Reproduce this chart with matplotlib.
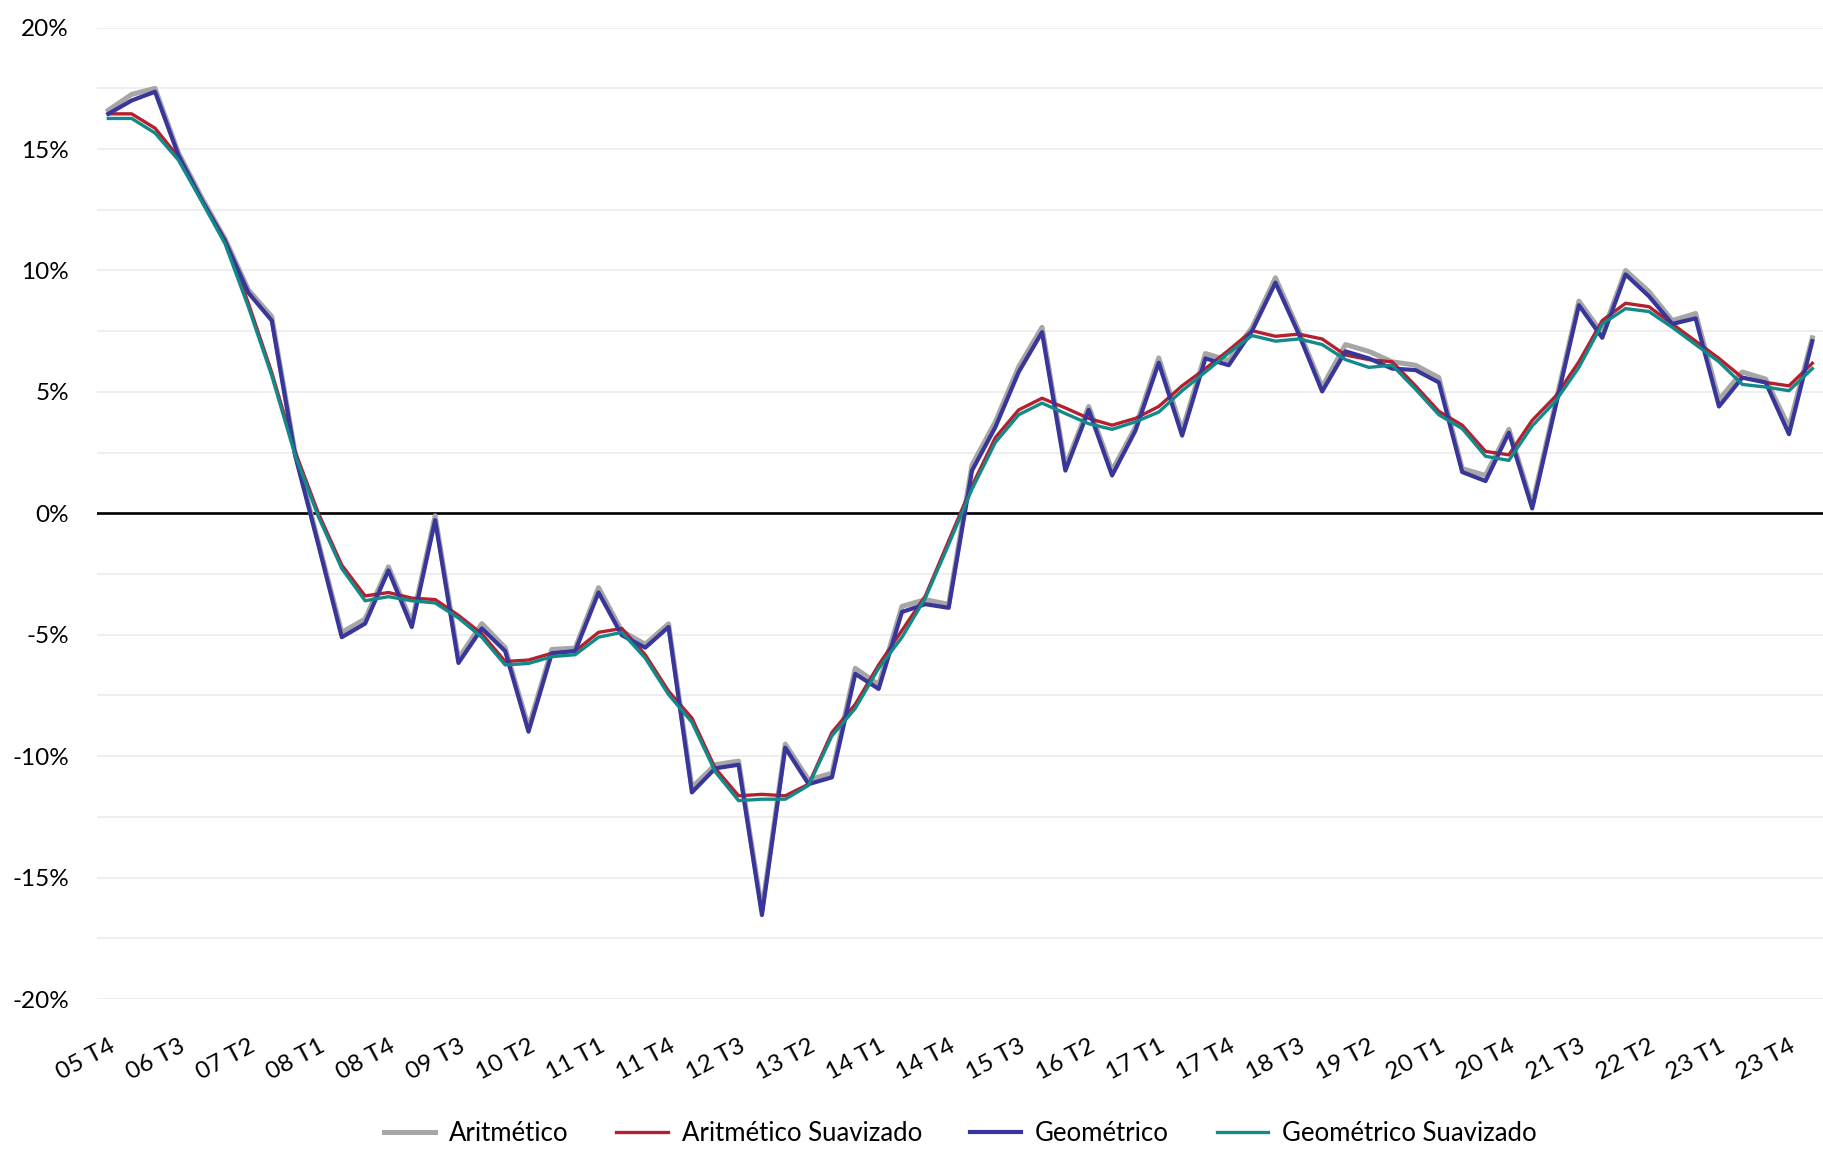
import matplotlib
matplotlib.use("Agg")
import matplotlib.pyplot as plt
from matplotlib.ticker import MultipleLocator, FuncFormatter

plt.rcParams['font.family'] = ['Lato', 'DejaVu Sans']

# quarters 05 T4 .. 24 T1
years = list(range(5, 25))
quarters = [f"{y:02d} T{q}" for y in years for q in range(1, 5)]
quarters = quarters[3:3 + 74]

# values in %
aritmetico = [16.6, 17.25, 17.5, 14.85, 13.0, 11.3, 9.2, 8.1, 2.5, -1.2,
              -4.9, -4.35, -2.2, -4.5, -0.1, -5.98, -4.54, -5.53, -8.8, -5.6,
              -5.55, -3.06, -4.85, -5.39, -4.55, -11.29, -10.35, -10.2, -16.35, -9.5,
              -10.98, -10.7, -6.38, -7.05, -3.83, -3.55, -3.75, 1.99, 3.77, 6.04,
              7.66, 1.94, 4.4, 1.76, 3.55, 6.4, 3.4, 6.58, 6.3, 7.66,
              9.7, 7.52, 5.2, 6.95, 6.67, 6.24, 6.1, 5.59, 1.84, 1.56,
              3.46, 0.35, 4.55, 8.74, 7.4, 10.0, 9.13, 7.94, 8.23, 4.68,
              5.82, 5.53, 3.55, 7.23]

aritmetico_suav = [16.45, 16.45, 15.86, 14.67, 12.9, 11.26, 8.65, 5.8, 2.55, 0.0,
                   -2.13, -3.4, -3.26, -3.49, -3.55, -4.2, -4.96, -6.1, -6.04, -5.76,
                   -5.67, -4.9, -4.74, -5.82, -7.32, -8.43, -10.5, -11.63, -11.57, -11.63,
                   -11.15, -9.02, -7.86, -6.24, -4.82, -3.4, -1.13, 1.13, 3.12, 4.26,
                   4.74, 4.34, 3.91, 3.63, 3.91, 4.4, 5.25, 5.96, 6.72, 7.52,
                   7.29, 7.38, 7.18, 6.52, 6.33, 6.24, 5.25, 4.2, 3.63, 2.55,
                   2.41, 3.83, 4.82, 6.24, 7.94, 8.65, 8.51, 7.8, 7.09, 6.38,
                   5.59, 5.39, 5.25, 6.18]

geometrico = [16.45, 17.0, 17.36, 14.75, 12.9, 11.2, 9.08, 7.94, 2.4, -1.3,
              -5.1, -4.54, -2.35, -4.68, -0.28, -6.16, -4.74, -5.67, -8.99, -5.76,
              -5.67, -3.26, -5.02, -5.53, -4.68, -11.49, -10.5, -10.35, -16.54, -9.65,
              -11.15, -10.87, -6.61, -7.23, -4.06, -3.74, -3.89, 1.76, 3.55, 5.82,
              7.46, 1.76, 4.26, 1.56, 3.4, 6.2, 3.2, 6.38, 6.1, 7.52,
              9.5, 7.38, 5.02, 6.67, 6.38, 5.96, 5.9, 5.39, 1.7, 1.33,
              3.32, 0.2, 4.4, 8.57, 7.23, 9.84, 8.94, 7.8, 8.03, 4.4,
              5.59, 5.39, 3.26, 7.09]

geometrico_suav = [16.26, 16.26, 15.66, 14.55, 12.85, 11.1, 8.5, 5.67, 2.4, -0.14,
                   -2.27, -3.6, -3.43, -3.6, -3.69, -4.31, -5.1, -6.24, -6.18, -5.9,
                   -5.82, -5.1, -4.9, -5.96, -7.46, -8.6, -10.64, -11.83, -11.77, -11.77,
                   -11.2, -9.16, -8.03, -6.38, -5.1, -3.49, -1.28, 1.0, 2.92, 4.06,
                   4.54, 4.11, 3.69, 3.46, 3.77, 4.17, 5.05, 5.82, 6.61, 7.32,
                   7.09, 7.18, 6.95, 6.33, 6.01, 6.1, 5.11, 4.06, 3.49, 2.35,
                   2.18, 3.6, 4.62, 6.01, 7.8, 8.43, 8.31, 7.66, 6.95, 6.24,
                   5.31, 5.2, 5.05, 5.96]

fig = plt.figure(figsize=(18.24, 11.51), dpi=100)
ax = fig.add_axes([0.053, 0.132, 0.947, 0.844])

x = list(range(len(quarters)))
ax.plot(x, aritmetico, color="#A6A6A6", lw=3.6, label="Aritmético", zorder=3)
ax.plot(x, aritmetico_suav, color="#B5202E", lw=2.4, label="Aritmético Suavizado", zorder=4)
ax.plot(x, geometrico, color="#38369A", lw=3.0, label="Geométrico", zorder=5)
ax.plot(x, geometrico_suav, color="#138A8A", lw=2.4, label="Geométrico Suavizado", zorder=6)

ax.axhline(0, color="black", lw=1.9, zorder=2)

ax.set_xlim(-0.5, len(quarters) - 0.5)
ax.set_ylim(-20, 20)
ax.yaxis.set_major_locator(MultipleLocator(5))
ax.yaxis.set_minor_locator(MultipleLocator(2.5))
ax.yaxis.set_major_formatter(FuncFormatter(lambda v, p: f"{v:.0f}%"))
ax.grid(True, axis="y", which="both", color="#EBEBEB", lw=1.2, zorder=0)

ticks = x[::3]
ax.set_xticks(ticks)
ax.set_xticklabels([quarters[i] for i in ticks], rotation=28, ha="right",
                   va="top", rotation_mode="anchor")
ax.tick_params(axis="x", length=0, pad=26, labelsize=17.5)
ax.tick_params(axis="y", which="both", length=0, pad=20, labelsize=17.5)

for s in ax.spines.values():
    s.set_visible(False)

# legend centred under the plot area, not the figure
fig.legend(loc="center", bbox_to_anchor=(0.5265, 0.0148), ncol=4, frameon=False,
           fontsize=18.5, handlelength=2.0, handletextpad=0.55, columnspacing=1.85)

fig.savefig("out.png", dpi=100)
